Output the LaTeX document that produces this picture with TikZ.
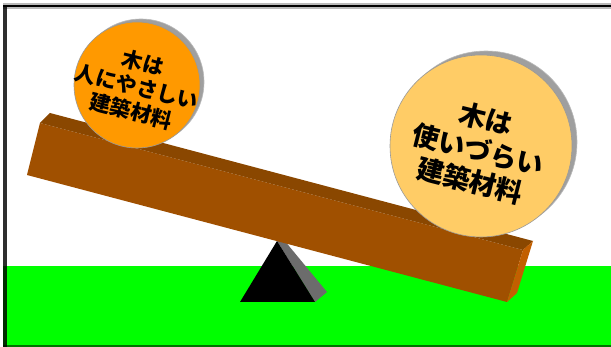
\documentclass[tikz,border=0pt]{standalone}
\usepackage{fontspec}
\newfontfamily\jpfont{Noto Sans CJK JP}
\definecolor{plankfront}{HTML}{A05000}
\definecolor{planktop}{HTML}{8A4700}
\definecolor{plankend}{HTML}{C25F00}
\definecolor{grass}{HTML}{00FF00}
\definecolor{ballA}{HTML}{FF9900}
\definecolor{ballB}{HTML}{FFCC66}
\definecolor{fulcrumside}{HTML}{6C6C6C}
\tikzset{
  ballshadow/.style={fill=gray!75, draw=gray!55, line width=0.6pt},
  ballface/.style={draw=gray!80, line width=0.6pt},
  balltext/.style={align=center, inner sep=0pt, font=\jpfont\bfseries},
}
\begin{document}
\begin{tikzpicture}[x=1pt, y=-1pt]
\useasboundingbox (0,0) rectangle (611,347);
\fill[white] (0,0) rectangle (611,347);

% ground
\fill[grass] (3,266) rectangle (611,347);
\draw[green!45!black, line width=1.5pt] (3,346) -- (611,346);

% frame
\fill[gray!55] (3,3) rectangle (611,9);
\draw[black, line width=1.6pt] (3,6.3) -- (611,6.3);
\fill[black, opacity=0.82] (3,6) rectangle (6.5,347);

% fulcrum
\fill[fulcrumside] (277,241) -- (284,240) -- (327,292) -- (315,302) -- cycle;
\fill[black] (277,241) -- (315,302) -- (240,302) -- cycle;

% plank
\coordinate (ftl) at (40,123);
\coordinate (btl) at (50,113);
\coordinate (btr) at (533,241);
\coordinate (ftr) at (523,250);
\coordinate (fbr) at (507,302);
\coordinate (bbr) at (517,293);
\coordinate (fbl) at (27,175);
\fill[plankfront] (ftl) -- (ftr) -- (fbr) -- (fbl) -- cycle;
\fill[planktop] (ftl) -- (btl) -- (btr) -- (ftr) -- cycle;
\fill[plankend] (ftr) -- (btr) -- (bbr) -- (fbr) -- cycle;

% small ball
\coordinate (smallc) at (137,85);
\fill[ballshadow] (141,82) circle[radius=63];
\filldraw[ballface, fill=ballA] (smallc) circle[radius=63];
\node[balltext, rotate=-14, font=\jpfont\bfseries\fontsize{21pt}{25pt}\selectfont]
  (smalltext) at (137,87) {木は\\人にやさしい\\建築材料};

% large ball
\coordinate (largec) at (481,146);
\fill[ballshadow] (486,142) circle[radius=91];
\filldraw[ballface, fill=ballB] (largec) circle[radius=91];
\node[balltext, rotate=-14, font=\jpfont\bfseries\fontsize{27pt}{32pt}\selectfont]
  (largetext) at (478,150) {木は\\使いづらい\\建築材料};
\end{tikzpicture}
\end{document}
